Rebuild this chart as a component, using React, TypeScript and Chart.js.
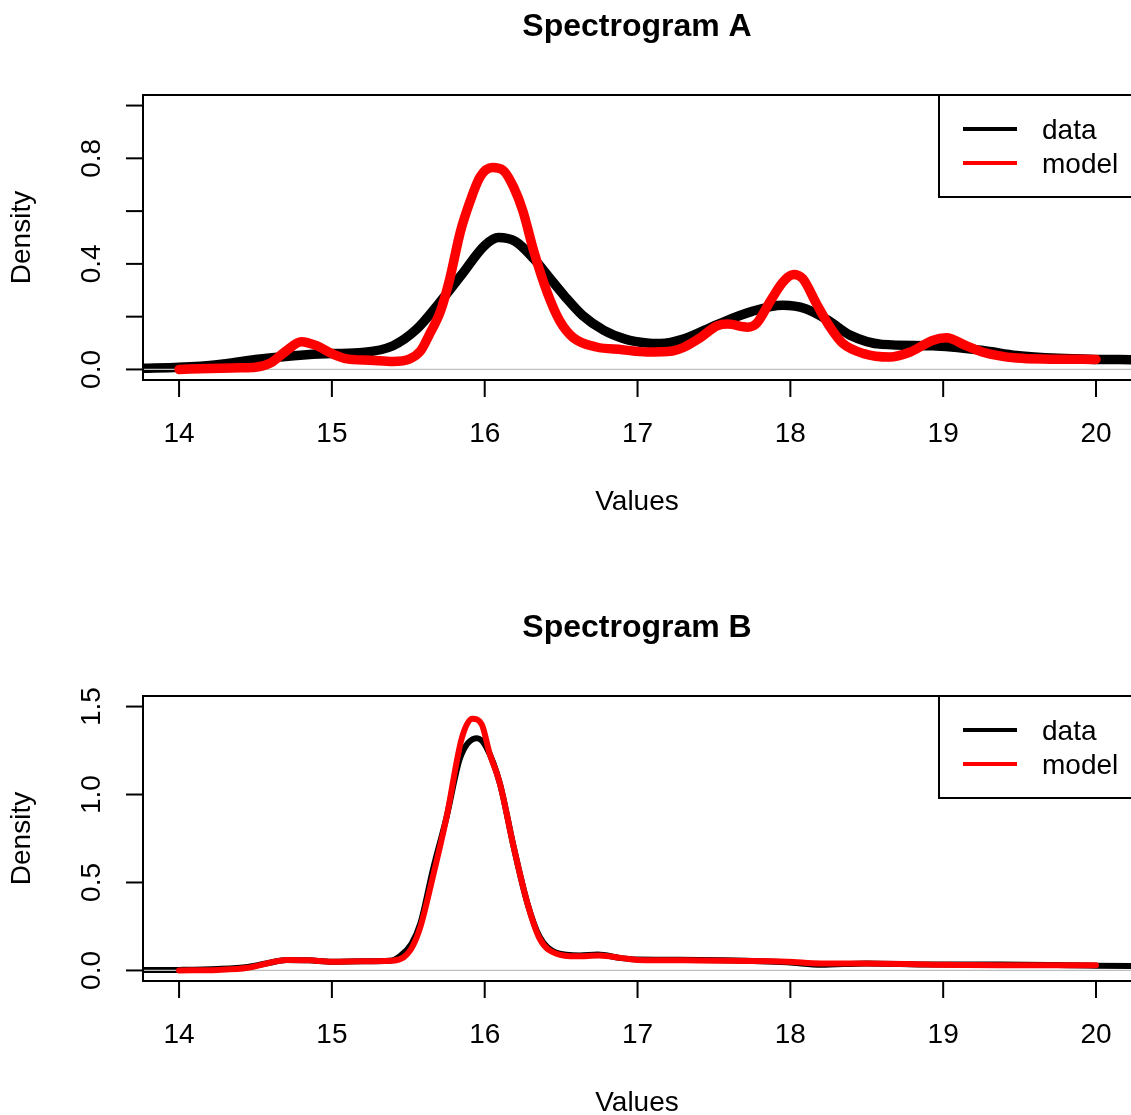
import React, { useEffect, useRef } from "react";
import { Chart, registerables } from "chart.js";

Chart.register(...registerables);

const FONT = '"Liberation Sans", Arial, Helvetica, sans-serif';

// ---- shared axis data ----
const xTicks = [14, 15, 16, 17, 18, 19, 20];
const xTickLabels = ["14", "15", "16", "17", "18", "19", "20"];
const xRange = [13.764, 20.229];

// ---- Spectrogram A ----
const yTicksA = [0, 0.2, 0.4, 0.6, 0.8, 1.0];
const yTickLabelsA = ["0.0", "", "0.4", "", "0.8", ""];
const yRangeA = [-0.04, 1.04];

const dataXA = [13.76, 14.0, 14.25, 14.5, 14.75, 15.0, 15.2, 15.4, 15.55, 15.7, 15.85, 16.0, 16.09, 16.2, 16.32, 16.42, 16.52, 16.64, 16.78, 16.92, 17.06, 17.15, 17.3, 17.52, 17.75, 17.95, 18.1, 18.25, 18.39, 18.6, 18.93, 19.26, 19.48, 19.75, 20.0, 20.23];
const dataYA = [0.004, 0.008, 0.018, 0.038, 0.052, 0.06, 0.064, 0.09, 0.15, 0.25, 0.36, 0.47, 0.5, 0.485, 0.42, 0.35, 0.28, 0.205, 0.148, 0.115, 0.1, 0.098, 0.115, 0.17, 0.22, 0.243, 0.23, 0.185, 0.13, 0.095, 0.09, 0.072, 0.053, 0.042, 0.038, 0.037];

const modelXA = [14.0, 14.2, 14.4, 14.5, 14.6, 14.7, 14.8, 14.9, 15.0, 15.1, 15.25, 15.4, 15.51, 15.58, 15.64, 15.71, 15.77, 15.84, 15.9, 15.97, 16.05, 16.12, 16.19, 16.25, 16.32, 16.41, 16.49, 16.58, 16.73, 16.9, 17.06, 17.23, 17.3, 17.41, 17.52, 17.59, 17.72, 17.78, 17.87, 17.95, 18.02, 18.08, 18.17, 18.26, 18.34, 18.48, 18.65, 18.78, 18.93, 19.02, 19.15, 19.26, 19.48, 19.7, 20.0];
const modelYA = [0.0, 0.004, 0.006, 0.008, 0.025, 0.07, 0.105, 0.09, 0.06, 0.04, 0.035, 0.03, 0.04, 0.07, 0.135, 0.22, 0.34, 0.52, 0.63, 0.73, 0.765, 0.755, 0.69, 0.6, 0.45, 0.29, 0.185, 0.12, 0.085, 0.075, 0.066, 0.07, 0.083, 0.12, 0.165, 0.172, 0.16, 0.175, 0.26, 0.33, 0.36, 0.345, 0.25, 0.16, 0.1, 0.06, 0.047, 0.065, 0.11, 0.12, 0.09, 0.065, 0.043, 0.039, 0.038];

// ---- Spectrogram B ----
const yTicksB = [0, 0.5, 1.0, 1.5];
const yTickLabelsB = ["0.0", "0.5", "1.0", "1.5"];
const yRangeB = [-0.06, 1.56];

const dataXB = [13.76, 14.0, 14.25, 14.45, 14.6, 14.7, 14.85, 15.0, 15.2, 15.38, 15.45, 15.52, 15.58, 15.66, 15.75, 15.84, 15.95, 16.01, 16.1, 16.19, 16.28, 16.36, 16.47, 16.62, 16.74, 16.89, 17.0, 17.4, 17.98, 18.2, 18.5, 18.93, 19.37, 19.94, 20.23];
const dataYB = [0.002, 0.003, 0.008, 0.02, 0.045, 0.06, 0.058, 0.05, 0.052, 0.055, 0.085, 0.15, 0.27, 0.57, 0.87, 1.21, 1.32, 1.27, 1.06, 0.7, 0.38, 0.19, 0.1, 0.085, 0.09, 0.07, 0.062, 0.06, 0.047, 0.032, 0.04, 0.034, 0.034, 0.028, 0.025];

const modelXB = [14.0, 14.25, 14.45, 14.6, 14.7, 14.85, 15.0, 15.2, 15.38, 15.47, 15.53, 15.58, 15.66, 15.75, 15.85, 15.92, 15.98, 16.03, 16.1, 16.19, 16.28, 16.36, 16.47, 16.6, 16.75, 16.9, 17.0, 17.4, 17.98, 18.2, 18.5, 18.93, 19.37, 19.94, 20.0];
const modelYB = [0.0, 0.003, 0.015, 0.045, 0.06, 0.058, 0.05, 0.052, 0.055, 0.075, 0.14, 0.25, 0.53, 0.87, 1.32, 1.43, 1.4, 1.24, 1.06, 0.7, 0.38, 0.18, 0.095, 0.08, 0.085, 0.07, 0.06, 0.057, 0.05, 0.04, 0.04, 0.033, 0.03, 0.03, 0.03];

const legendLabels = ["data", "model"];
const seriesColors = ["#000000", "#ff0000"];

type PanelProps = {
  title: string;
  dataX: number[];
  dataY: number[];
  modelX: number[];
  modelY: number[];
  yTicks: number[];
  yTickLabels: string[];
  yRange: number[];
  lineWidth: number;
  height: number;
  top: number;
};

const toPts = (xs: number[], ys: number[]) => xs.map((x, i) => ({ x, y: ys[i] }));

function Panel(p: PanelProps) {
  const ref = useRef<HTMLCanvasElement | null>(null);
  useEffect(() => {
    const canvas = ref.current;
    if (!canvas) return;
    const W = 1131;
    const plotTop = 95;
    const plotBottom = 380;
    const rPlugin = {
      id: "rbase",
      afterDraw(chart: any) {
        const ctx = chart.ctx as CanvasRenderingContext2D;
        const ca = chart.chartArea;
        const xs = chart.scales.x;
        const ys = chart.scales.y;
        ctx.save();
        ctx.strokeStyle = "#000";
        ctx.fillStyle = "#000";
        ctx.lineWidth = 2;
        ctx.lineCap = "butt";
        // box (left, top, bottom; right side lies outside)
        ctx.beginPath();
        ctx.moveTo(ca.right + 5, ca.top);
        ctx.lineTo(ca.left, ca.top);
        ctx.lineTo(ca.left, ca.bottom);
        ctx.lineTo(ca.right + 5, ca.bottom);
        ctx.stroke();
        // x ticks
        ctx.font = `28px ${FONT}`;
        ctx.textAlign = "center";
        ctx.textBaseline = "alphabetic";
        xTicks.forEach((t, i) => {
          const px = xs.getPixelForValue(t);
          ctx.beginPath();
          ctx.moveTo(px, ca.bottom);
          ctx.lineTo(px, ca.bottom + 17);
          ctx.stroke();
          ctx.fillText(xTickLabels[i], px, ca.bottom + 62);
        });
        // y ticks
        p.yTicks.forEach((t, i) => {
          const py = ys.getPixelForValue(t);
          ctx.beginPath();
          ctx.moveTo(ca.left, py);
          ctx.lineTo(ca.left - 17, py);
          ctx.stroke();
          const lab = p.yTickLabels[i];
          if (lab) {
            ctx.save();
            ctx.translate(ca.left - 43, py);
            ctx.rotate(-Math.PI / 2);
            ctx.textAlign = "center";
            ctx.textBaseline = "alphabetic";
            ctx.fillText(lab, 0, 0);
            ctx.restore();
          }
        });
        // axis titles
        const cx = (ca.left + ca.right) / 2;
        ctx.textAlign = "center";
        ctx.fillText("Values", cx, ca.bottom + 130);
        ctx.save();
        ctx.translate(30, (ca.top + ca.bottom) / 2);
        ctx.rotate(-Math.PI / 2);
        ctx.textAlign = "center";
        ctx.fillText("Density", 0, 0);
        ctx.restore();
        // main title
        ctx.font = `bold 32px ${FONT}`;
        ctx.fillText(p.title, cx, 36);
        // legend
        const lx = 939;
        ctx.lineWidth = 2;
        ctx.fillStyle = "#fff";
        ctx.beginPath();
        ctx.rect(lx, ca.top, W + 20 - lx, 102);
        ctx.fill();
        ctx.stroke();
        ctx.fillStyle = "#000";
        ctx.font = `28px ${FONT}`;
        ctx.textAlign = "left";
        legendLabels.forEach((lab, i) => {
          const ly = ca.top + 34 + i * 34;
          ctx.strokeStyle = seriesColors[i];
          ctx.lineWidth = 4;
          ctx.beginPath();
          ctx.moveTo(963, ly);
          ctx.lineTo(1017, ly);
          ctx.stroke();
          ctx.fillText(lab, 1042, ly + 10);
        });
        ctx.restore();
      },
    };
    const chart = new Chart(canvas, {
      type: "line",
      data: {
        datasets: [
          {
            label: "model",
            data: toPts(p.modelX, p.modelY),
            borderColor: seriesColors[1],
            borderWidth: p.lineWidth,
            pointRadius: 0,
            cubicInterpolationMode: "monotone",
            borderCapStyle: "round",
            borderJoinStyle: "round",
            fill: false,
            clip: 0,
          } as any,
          {
            label: "zero",
            data: [
              { x: xRange[0], y: 0 },
              { x: xRange[1], y: 0 },
            ],
            borderColor: "#bebebe",
            borderWidth: 1.2,
            pointRadius: 0,
            fill: false,
            clip: 0,
          } as any,
          {
            label: "data",
            data: toPts(p.dataX, p.dataY),
            borderColor: seriesColors[0],
            borderWidth: p.lineWidth,
            pointRadius: 0,
            cubicInterpolationMode: "monotone",
            borderCapStyle: "round",
            borderJoinStyle: "round",
            fill: false,
            clip: 0,
          } as any,
        ],
      },
      options: {
        animation: false,
        responsive: false,
        maintainAspectRatio: false,
        devicePixelRatio: 1,
        events: [],
        layout: {
          padding: { left: 143, right: 0, top: plotTop, bottom: p.height - plotBottom },
        },
        plugins: { legend: { display: false }, title: { display: false }, tooltip: { enabled: false } },
        scales: {
          x: { type: "linear", min: xRange[0], max: xRange[1], display: false },
          y: { type: "linear", min: p.yRange[0], max: p.yRange[1], display: false },
        },
      },
      plugins: [rPlugin],
    });
    return () => chart.destroy();
  }, []);
  return (
    <canvas
      ref={ref}
      width={1131}
      height={p.height}
      style={{ position: "absolute", left: 0, top: p.top, width: 1131, height: p.height, display: "block" }}
    />
  );
}

export default function App() {
  useEffect(() => {
    document.body.style.margin = "0";
    document.body.style.overflow = "hidden";
  }, []);
  return (
    <div style={{ position: "absolute", left: 0, top: 0, width: 1131, height: 1115, background: "#fff", overflow: "hidden" }}>
      <Panel title="Spectrogram A" dataX={dataXA} dataY={dataYA} modelX={modelXA} modelY={modelYA} yTicks={yTicksA} yTickLabels={yTickLabelsA} yRange={yRangeA} lineWidth={9.5} height={600} top={0} />
      <Panel title="Spectrogram B" dataX={dataXB} dataY={dataYB} modelX={modelXB} modelY={modelYB} yTicks={yTicksB} yTickLabels={yTickLabelsB} yRange={yRangeB} lineWidth={6} height={514} top={601} />
    </div>
  );
}
